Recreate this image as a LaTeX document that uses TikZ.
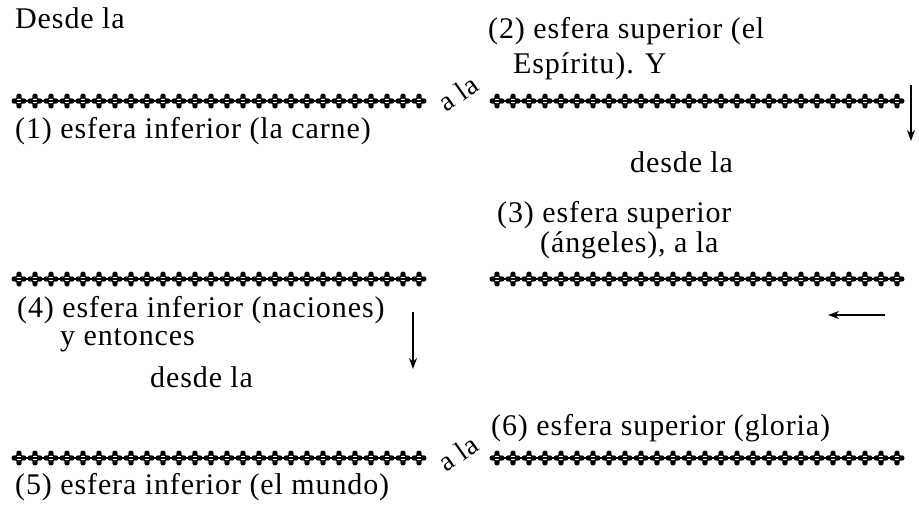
\documentclass[tikz,border=0pt]{standalone}
\usepackage{fontspec}
\setmainfont{Liberation Serif}[LetterSpace=3]
\usetikzlibrary{arrows.meta}
\newcommand\chainrow[3]{% x0, y, count
  \foreach \k in {1,...,#3}{
    \pgfmathsetmacro\cx{#1+(\k-1)*16.0}
    \draw[line width=1.6pt] (\cx-4.8,#2) -- (\cx,#2-4.8) -- (\cx+4.8,#2) -- (\cx,#2+4.8) -- cycle;
    \fill (\cx-4.8,#2) circle (2.7pt) (\cx+4.8,#2) circle (2.7pt)
          (\cx,#2-4.8) circle (2.7pt) (\cx,#2+4.8) circle (2.7pt);
  }
  \pgfmathsetmacro\cend{#1+(#3-1)*16.0}
  \draw[line width=2pt] (#1-4.8,#2) -- (\cend+4.8,#2);
}
\tikzset{
  txt/.style={anchor=base west, inner sep=0pt, font=\fontsize{30}{35}\selectfont},
  ala/.style={inner sep=0pt, rotate=35, font=\fontsize{28}{33}\selectfont},
  arr/.style={line width=1.4pt, -{Stealth[length=11pt,width=8pt]}}
}
\begin{document}
\begin{tikzpicture}[x=1pt,y=-1pt]
\useasboundingbox (0,0) rectangle (919,507);
% chains
\chainrow{19}{101}{26}
\chainrow{497}{101}{26}
\chainrow{19}{279}{26}
\chainrow{497}{279}{26}
\chainrow{19}{458}{26}
\chainrow{497}{458}{26}
% texts
\node[txt] (t0) at (15,28) {Desde la};
\node[txt] (t2a) at (488,38) {(2) esfera superior (el};
\node[txt] (t2b) at (513,73) {Espíritu). Y};
\node[txt] (t1) at (15,138) {(1) esfera inferior (la carne)};
\node[ala] (a1) at (458,93) {a la};
\node[txt] (d1) at (630,172) {desde la};
\node[txt] (t3a) at (497,222) {(3) esfera superior};
\node[txt] (t3b) at (540,252) {(ángeles), a la};
\node[txt] (t4a) at (17,317) {(4) esfera inferior (naciones)};
\node[txt] (t4b) at (60,345) {y entonces};
\node[txt] (d2) at (150,387) {desde la};
\node[txt] (t6) at (491,435) {(6) esfera superior (gloria)};
\node[ala] (a2) at (458,453) {a la};
\node[txt] (t5) at (15,494) {(5) esfera inferior (el mundo)};
% arrows
\coordinate (p1) at (911,85);  \coordinate (q1) at (911,141);
\coordinate (p2) at (885,315); \coordinate (q2) at (828,315);
\coordinate (p3) at (413,312); \coordinate (q3) at (413,369);
\draw[arr] (p1) -- (q1);
\draw[arr] (p2) -- (q2);
\draw[arr] (p3) -- (q3);
\end{tikzpicture}
\end{document}
